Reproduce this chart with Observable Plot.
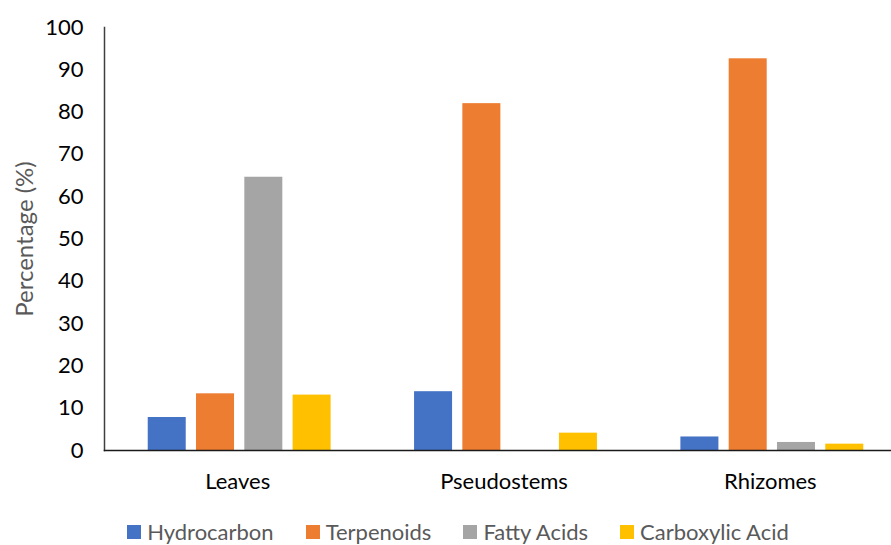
<!DOCTYPE html>
<html>
<head>
<meta charset="utf-8">
<script src="https://cdn.jsdelivr.net/npm/d3@7"></script>
<script src="https://cdn.jsdelivr.net/npm/@observablehq/plot@0.6"></script>
<style>
  html, body { margin: 0; padding: 0; background: #fff; overflow: hidden; }
  #chart { position: relative; width: 891px; height: 545px; font-family: Lato, "Open Sans", sans-serif; }
  #chart svg { position: absolute; left: 0; top: 0; overflow: visible; }
  .legend { position: absolute; left: 0; top: 519px; width: 916px; height: 26px;
            display: flex; justify-content: center; align-items: center;
            font-size: 22px; color: #595959; line-height: 1; }
  .legend .item { display: flex; align-items: center; margin: 0 16px; }
  .legend .sw { width: 14px; height: 14px; margin-right: 6px; }
</style>
</head>
<body>
<div id="chart"></div>
<script>
// Plant parts (groups) and compound classes (bars within each group)
const categories = ["Leaves", "Pseudostems", "Rhizomes"];
const series = ["Hydrocarbon", "Terpenoids", "Fatty Acids", "Carboxylic Acid"];
const colors = ["#4472C4", "#ED7D31", "#A5A5A5", "#FFC000"];

// Percentage of each compound class, in the order of `categories`
const hydrocarbon    = [7.8, 13.9, 3.2];
const terpenoids     = [13.4, 82.0, 92.6];
const fattyAcids     = [64.6, 0, 1.9];
const carboxylicAcid = [13.1, 4.1, 1.5];

const yTicks = [0, 10, 20, 30, 40, 50, 60, 70, 80, 90, 100];
const yLabel = "Percentage (%)";

const valuesBySeries = [hydrocarbon, terpenoids, fattyAcids, carboxylicAcid];
const table = [];
categories.forEach((category, i) => {
  series.forEach((s, j) => {
    table.push({category, series: s, value: valuesBySeries[j][i]});
  });
});

const chart = Plot.plot({
  width: 891,
  height: 505,
  marginLeft: 104,
  marginRight: -12,
  marginTop: 27,
  marginBottom: 55,
  style: {fontFamily: "Lato, 'Open Sans', sans-serif", fontSize: "22px", color: "#000", background: "#fff", overflow: "visible"},
  fx: {domain: categories, padding: 0, label: null, round: false},
  x: {domain: series, paddingInner: 0.213, paddingOuter: 0.864, align: 0.524, round: false, axis: null},
  y: {domain: [0, 100], label: null},
  color: {domain: series, range: colors},
  marks: [
    Plot.barY(table, {fx: "category", x: "series", y: "value", fill: "series"}),
    Plot.axisY({ticks: yTicks, tickSize: 0, tickPadding: 21, label: null, color: "#000"}),
    Plot.axisY({ticks: [], label: yLabel, labelAnchor: "center", labelOffset: 89, labelArrow: "none", color: "#595959", fontSize: 24}),
    Plot.axisFx({anchor: "bottom", tickSize: 0, tickPadding: 23, label: null, color: "#000"}),
    Plot.frame({anchor: "left", facetAnchor: "left", stroke: "#404040", strokeWidth: 1.5}),
    // one continuous baseline (y = 0) across all groups
    Plot.frame({anchor: "bottom", facet: "super", stroke: "#1a1a1a", strokeWidth: 1.5})
  ]
});

const root = document.getElementById("chart");
root.appendChild(chart);

// Swatch legend below the plot
const legend = d3.select(root).append("div").attr("class", "legend");
series.forEach((s, i) => {
  const item = legend.append("div").attr("class", "item");
  item.append("div").attr("class", "sw").style("background", colors[i]);
  item.append("span").text(s);
});
</script>
</body>
</html>
